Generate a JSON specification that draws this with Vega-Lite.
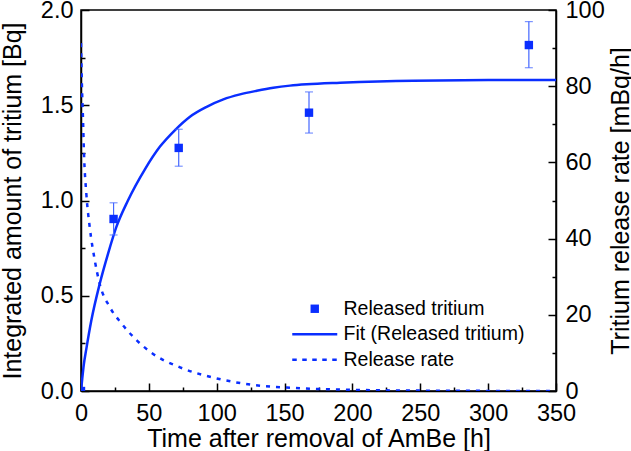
{
  "$schema": "https://vega.github.io/schema/vega-lite/v6.json",
  "width": 475,
  "height": 381,
  "autosize": {"type": "none"},
  "padding": {"left": 81, "top": 10, "right": 75, "bottom": 60},
  "background": "white",
  "config": {
    "view": {"stroke": "black", "strokeWidth": 1.5},
    "font": "Liberation Sans",
    "axis": {
      "domainColor": "black", "domainWidth": 1.5,
      "tickColor": "black", "tickWidth": 1.5, "tickSize": -8,
      "labelColor": "black", "titleColor": "black",
      "labelFont": "Liberation Sans", "titleFont": "Liberation Sans",
      "labelFontSize": 23.5, "titleFontSize": 25, "titleFontWeight": "normal",
      "grid": false, "labelOverlap": false, "labelFlush": false
    }
  },
  "datasets": {
    "fit": [
      {"t": 0, "v": 0}, {"t": 1, "v": 0.07}, {"t": 2, "v": 0.135}, {"t": 3.9, "v": 0.22},
      {"t": 7.6, "v": 0.37}, {"t": 13.8, "v": 0.563}, {"t": 19.9, "v": 0.72}, {"t": 26, "v": 0.86},
      {"t": 34.6, "v": 1.0}, {"t": 47.2, "v": 1.165}, {"t": 58.2, "v": 1.283}, {"t": 69.3, "v": 1.37},
      {"t": 80.3, "v": 1.44}, {"t": 92.6, "v": 1.492}, {"t": 104.9, "v": 1.531}, {"t": 117.2, "v": 1.557},
      {"t": 129.5, "v": 1.576}, {"t": 141.7, "v": 1.592}, {"t": 154, "v": 1.603}, {"t": 166.3, "v": 1.61},
      {"t": 190.9, "v": 1.618}, {"t": 244.9, "v": 1.629}, {"t": 300, "v": 1.632}, {"t": 350, "v": 1.633}
    ],
    "rate": [
      {"t": 0, "r": 91.3}, {"t": 0.7, "r": 80}, {"t": 1.5, "r": 71}, {"t": 2.2, "r": 62.4},
      {"t": 3.9, "r": 51.9}, {"t": 6.4, "r": 43.1}, {"t": 10.1, "r": 34.4}, {"t": 13.8, "r": 28.1},
      {"t": 21.1, "r": 22.1}, {"t": 29.7, "r": 17.8}, {"t": 40.8, "r": 13.4}, {"t": 52, "r": 10},
      {"t": 73, "r": 6.2}, {"t": 100, "r": 3.3}, {"t": 127, "r": 1.6}, {"t": 151.6, "r": 0.9},
      {"t": 200, "r": 0.3}, {"t": 250, "r": 0.1}, {"t": 300, "r": 0.03}, {"t": 350, "r": 0.01}
    ],
    "pts": [
      {"t": 0, "v": 0, "lo": null, "hi": null, "s": "Released tritium"},
      {"t": 24, "v": 0.903, "lo": 0.819, "hi": 0.988, "s": "Released tritium"},
      {"t": 72, "v": 1.276, "lo": 1.18, "hi": 1.374, "s": "Released tritium"},
      {"t": 168, "v": 1.461, "lo": 1.354, "hi": 1.57, "s": "Released tritium"},
      {"t": 330, "v": 1.816, "lo": 1.697, "hi": 1.939, "s": "Released tritium"}
    ]
  },
  "encoding": {
    "x": {
      "field": "t", "type": "quantitative",
      "scale": {"domain": [0, 350], "nice": false},
      "axis": {
        "title": "Time after removal of AmBe [h]",
        "values": [0, 25, 50, 75, 100, 125, 150, 175, 200, 225, 250, 275, 300, 325, 350],
        "labelExpr": "datum.value % 50 === 0 ? datum.label : ''",
        "tickDash": {"condition": {"test": "datum.value % 50 !== 0", "value": [4, 20]}, "value": [10, 0]},
        "labelPadding": 18,
        "titlePadding": 2
      }
    }
  },
  "layer": [
    {
      "layer": [
        {
          "data": {"name": "fit"},
          "mark": {"type": "line", "color": "#0a2eff", "strokeWidth": 2.5, "interpolate": "monotone", "clip": true},
          "encoding": {
            "y": {
              "field": "v", "type": "quantitative",
              "scale": {"domain": [0, 2], "nice": false},
              "axis": {
                "title": "Integrated amount of tritium [Bq]",
                "values": [0, 0.25, 0.5, 0.75, 1, 1.25, 1.5, 1.75, 2],
                "format": ".1f",
                "labelExpr": "round(datum.value * 4) % 2 === 0 ? datum.label : ''",
                "tickDash": {"condition": {"test": "round(datum.value * 4) % 2 !== 0", "value": [4, 20]}, "value": [10, 0]},
                "labelPadding": 16,
                "titlePadding": 15
              }
            }
          }
        },
        {
          "data": {"name": "pts"},
          "transform": [{"filter": "datum.lo != null"}],
          "mark": {"type": "errorbar", "ticks": {"size": 8, "thickness": 1.2}, "color": "#4466ff", "thickness": 1.2},
          "encoding": {
            "y": {"field": "lo", "type": "quantitative", "title": "Integrated amount of tritium [Bq]"},
            "y2": {"field": "hi"}
          }
        },
        {
          "data": {"name": "pts"},
          "mark": {"type": "point", "filled": true, "size": 225, "opacity": 1, "color": "#0a2eff", "clip": true},
          "encoding": {
            "y": {"field": "v", "type": "quantitative", "title": "Integrated amount of tritium [Bq]"},
            "shape": {
              "field": "s", "type": "nominal",
              "scale": {
                "domain": ["Released tritium", "Fit (Released tritium)", "Release rate"],
                "range": [
                  "M-0.56,-0.56H0.56V0.56H-0.56Z",
                  "M-3,-0.167H3V0.167H-3Z",
                  "M-3,-0.167H-2.4V0.167H-3ZM-1.667,-0.167H-1.067V0.167H-1.667ZM-0.333,-0.167H0.267V0.167H-0.333ZM1,-0.167H1.6V0.167H1ZM2.333,-0.167H2.933V0.167H2.333Z"
                ]
              },
              "legend": {
                "title": null,
                "orient": "none",
                "legendX": 224,
                "legendY": 289,
                "padding": 0,
                "symbolSize": 225,
                "symbolStrokeWidth": 0,
                "symbolFillColor": "#0a2eff",
                "symbolOpacity": 1,
                "labelFont": "Liberation Sans",
                "labelFontSize": 19.5,
                "labelColor": "black",
                "labelLimit": 300,
                "labelOffset": 19,
                "rowPadding": 4.5
              }
            }
          }
        }
      ]
    },
    {
      "data": {"name": "rate"},
      "mark": {"type": "line", "color": "#0a2eff", "strokeWidth": 2.5, "strokeDash": [4, 6], "interpolate": "monotone", "clip": true},
      "encoding": {
        "y": {
          "field": "r", "type": "quantitative",
          "scale": {"domain": [0, 100], "nice": false},
          "axis": {
            "orient": "right",
            "title": "Tritium release rate [mBq/h]",
            "values": [0, 10, 20, 30, 40, 50, 60, 70, 80, 90, 100],
            "labelExpr": "datum.value % 20 === 0 ? datum.label : ''",
            "tickDash": {"condition": {"test": "datum.value % 20 !== 0", "value": [4, 20]}, "value": [10, 0]},
            "labelPadding": 17,
            "titleAngle": 270,
            "titleBaseline": "top",
            "titlePadding": 4
          }
        }
      }
    }
  ],
  "resolve": {"scale": {"y": "independent"}}
}
